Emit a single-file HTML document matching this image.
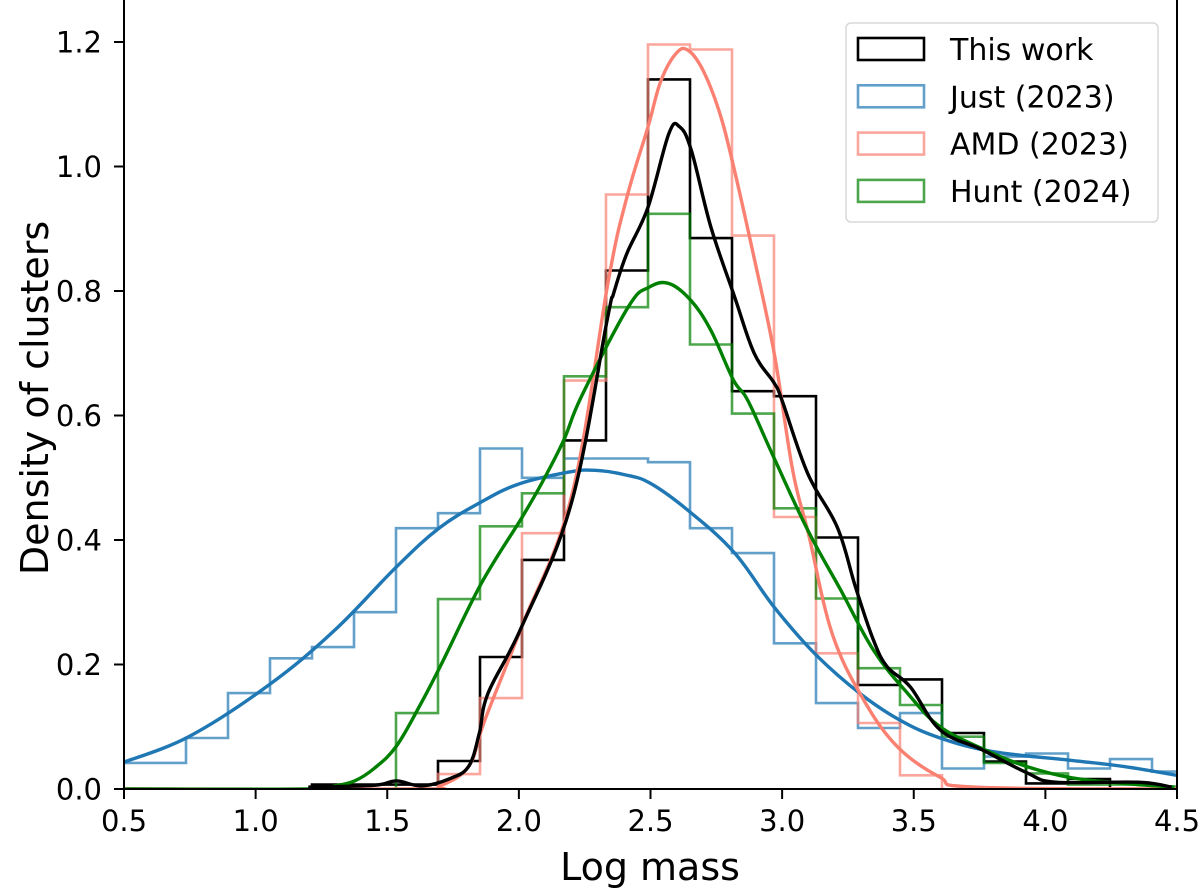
<!DOCTYPE html>
<html><head><meta charset="utf-8">
<style>
html,body{margin:0;padding:0;background:#fff;}
svg{display:block;font-family:"DejaVu Sans","Liberation Sans",sans-serif;}
</style></head>
<body>
<svg id="chart" width="1200" height="895" viewBox="0 0 1200 895" xmlns="http://www.w3.org/2000/svg">
<defs><clipPath id="plotclip"><rect x="124" y="0" width="1053" height="789"/></clipPath></defs>
<g id="plot" clip-path="url(#plotclip)"></g>
<g id="axes"></g>
</svg>
<script>
// ---- data ----
const binStart = 0.7355;   // left edge of bin index 0 (log mass)
const binWidth = 0.15955;  // bin width (log mass)
const justStartBin = -2;
const justHist = [0.042,0.042,0.082,0.154,0.21,0.228,0.284,0.419,0.443,0.547,0.50,0.531,0.531,0.525,0.419,0.379,0.234,0.138,0.098,0.122,0.033,0.052,0.057,0.033,0.048,0.028];
const thisStartBin = 3;
const thisHist = [0.007,0.007,0.007,0.045,0.212,0.368,0.56,0.833,1.14,0.885,0.639,0.631,0.404,0.167,0.176,0.09,0.044,0.009,0.016];
const amdStartBin = 6;
const amdHist = [0.024,0.146,0.411,0.656,0.955,1.196,1.188,0.889,0.437,0.218,0.106,0.022];
const huntStartBin = 5;
const huntHist = [0.122,0.305,0.422,0.475,0.663,0.774,0.924,0.714,0.603,0.451,0.306,0.194,0.135,0.084,0.042,0.025,0.007,0.007,0.004,0.003];

const justKdeX = [0.5,0.75,1.05,1.3,1.535,1.7,1.857,2.0,2.19,2.29,2.4,2.5,2.65,2.82,2.97,3.13,3.3,3.45,3.6,3.8,4.1,4.3,4.5];
const justKdeY = [0.043,0.085,0.167,0.255,0.357,0.42,0.461,0.49,0.509,0.512,0.505,0.491,0.445,0.379,0.292,0.215,0.152,0.11,0.082,0.06,0.046,0.036,0.022];
const thisKdeX = [1.2,1.45,1.535,1.63,1.74,1.81,1.85,1.883,2.01,2.2,2.335,2.36,2.41,2.49,2.57,2.61,2.655,2.73,2.82,2.894,2.97,3.0,3.097,3.21,3.279,3.347,3.4,3.487,3.6,3.76,3.93,4.04,4.35,4.48];
const thisKdeY = [0.003,0.006,0.013,0.005,0.017,0.037,0.09,0.154,0.26,0.46,0.753,0.796,0.86,0.934,1.053,1.064,1.026,0.902,0.79,0.7,0.652,0.624,0.507,0.42,0.324,0.239,0.196,0.164,0.095,0.063,0.026,0.011,0.011,0.003];
const amdKdeX = [0.5,1.6,1.7,1.81,1.87,2.01,2.2,2.34,2.41,2.49,2.54,2.6,2.645,2.7,2.76,2.81,2.89,2.97,3.04,3.10,3.19,3.31,3.44,3.6,3.73,4.5];
const amdKdeY = [0,0,0.005,0.037,0.11,0.26,0.47,0.817,0.95,1.063,1.138,1.183,1.186,1.154,1.09,1.01,0.86,0.7,0.512,0.41,0.25,0.143,0.067,0.019,0.003,0];
const huntKdeX = [0.5,1.2,1.3,1.376,1.45,1.535,1.63,1.705,1.857,2.01,2.085,2.17,2.237,2.415,2.494,2.57,2.653,2.729,2.815,2.87,2.968,3.097,3.222,3.347,3.476,3.6,3.77,3.93,4.1,4.3,4.49];
const huntKdeY = [0,0,0.005,0.013,0.033,0.069,0.139,0.2,0.33,0.435,0.49,0.56,0.63,0.774,0.806,0.812,0.785,0.737,0.657,0.624,0.533,0.416,0.32,0.223,0.154,0.1,0.063,0.036,0.018,0.009,0.003];

const xTicks = [0.5,1.0,1.5,2.0,2.5,3.0,3.5,4.0,4.5];
const yTicks = [0.0,0.2,0.4,0.6,0.8,1.0,1.2];

// ---- scales ----
const X0=124, X1=1177, Y0=789, PXY=622.5, YTOP=0;
function sx(v){return X0+(v-0.5)*(X1-X0)/4;}
function sy(v){return Y0-v*PXY;}
const NS="http://www.w3.org/2000/svg";
const plot=document.getElementById('plot');
const axes=document.getElementById('axes');
function mk(tag,attrs,parent){const e=document.createElementNS(NS,tag);for(const k in attrs)e.setAttribute(k,attrs[k]);parent.appendChild(e);return e;}

function histPath(start,vals){
  let d='';
  for(let i=0;i<vals.length;i++){
    const l=sx(binStart+(start+i)*binWidth), r=sx(binStart+(start+i+1)*binWidth);
    const y=sy(vals[i]);
    if(i===0) d+='M'+l.toFixed(1)+','+Y0+' L'+l.toFixed(1)+','+y.toFixed(1);
    else d+=' L'+l.toFixed(1)+','+y.toFixed(1);
    d+=' L'+r.toFixed(1)+','+y.toFixed(1);
  }
  const lastR=sx(binStart+(start+vals.length)*binWidth);
  d+=' L'+lastR.toFixed(1)+','+Y0;
  return d;
}
function smoothPath(xs,ys){
  const p=xs.map((x,i)=>[sx(x),sy(ys[i])]);
  let d='M'+p[0][0].toFixed(1)+','+p[0][1].toFixed(1);
  for(let i=0;i<p.length-1;i++){
    const p0=p[i-1]||p[i], p1=p[i], p2=p[i+1], p3=p[i+2]||p2;
    const t=0.18;
    const c1=[p1[0]+(p2[0]-p0[0])*t, p1[1]+(p2[1]-p0[1])*t];
    const c2=[p2[0]-(p3[0]-p1[0])*t, p2[1]-(p3[1]-p1[1])*t];
    d+=' C'+c1[0].toFixed(1)+','+c1[1].toFixed(1)+' '+c2[0].toFixed(1)+','+c2[1].toFixed(1)+' '+p2[0].toFixed(1)+','+p2[1].toFixed(1);
  }
  return d;
}

const hThis=mk('path',{d:histPath(thisStartBin,thisHist),fill:'none',stroke:'#000','stroke-width':2.6},plot);


const hJust=mk('path',{d:histPath(justStartBin,justHist),fill:'none',stroke:'#1f77b4','stroke-opacity':0.7,'stroke-width':2.6},plot);


const hAmd=mk('path',{d:histPath(amdStartBin,amdHist),fill:'none',stroke:'#fa8072','stroke-opacity':0.7,'stroke-width':2.6},plot);


const hHunt=mk('path',{d:histPath(huntStartBin,huntHist),fill:'none',stroke:'#008000','stroke-opacity':0.7,'stroke-width':2.6},plot);



const kJust=mk('path',{d:smoothPath(justKdeX,justKdeY),fill:'none',stroke:'#1f77b4','stroke-width':3.4,'stroke-linejoin':'round'},plot);


const kAmd=mk('path',{d:smoothPath(amdKdeX,amdKdeY),fill:'none',stroke:'#fa8072','stroke-width':3.4,'stroke-linejoin':'round'},plot);


const kHunt=mk('path',{d:smoothPath(huntKdeX,huntKdeY),fill:'none',stroke:'#008000','stroke-width':3.4,'stroke-linejoin':'round'},plot);


const kThis=mk('path',{d:smoothPath(thisKdeX,thisKdeY),fill:'none',stroke:'#000','stroke-width':3.4,'stroke-linejoin':'round'},plot);



// spines
const frame=mk('rect',{x:X0,y:YTOP-1,width:X1-X0,height:Y0-YTOP+1,fill:'none',stroke:'#000','stroke-width':2},axes);



xTicks.forEach(t=>{
  const x=sx(t);
  const tk=mk('line',{x1:x,y1:Y0,x2:x,y2:Y0+10,stroke:'#000','stroke-width':2},axes);
  
  
  const lb=mk('text',{x:x,y:831,'font-size':29,'text-anchor':'middle',fill:'#000'},axes);
  lb.textContent=t.toFixed(1);
  
  
});
yTicks.forEach(t=>{
  const y=sy(t);
  const tk=mk('line',{x1:X0-10,y1:y,x2:X0,y2:y,stroke:'#000','stroke-width':2},axes);
  
  
  const lb=mk('text',{x:102,y:y+10.5,'font-size':29,'text-anchor':'end',fill:'#000'},axes);
  lb.textContent=t.toFixed(1);
  
  
});
const xl=mk('text',{x:650,y:880,'font-size':38,'text-anchor':'middle',fill:'#000'},axes);
xl.textContent='Log mass';


const yl=mk('text',{x:0,y:0,'font-size':38,'text-anchor':'middle',fill:'#000',transform:'translate(48,398) rotate(-90)'},axes);
yl.textContent='Density of clusters';



// legend
const leg=mk('g',{},axes);


mk('rect',{x:846,y:23,width:312,height:199,rx:5,fill:'#fff','fill-opacity':0.85,stroke:'#d8d8d8','stroke-width':1.5},leg);
const legNames=['This work','Just (2023)','AMD (2023)','Hunt (2024)'];
const legColors=['#000','#1f77b4','#fa8072','#008000'];
const legOp=[1,0.7,0.7,0.7];
const legSlugs=['this-work','just-2023','amd-2023','hunt-2024'];
legNames.forEach((n,i)=>{
  const cy=49+i*47.3;
  const g=mk('g',{},leg);
  
  
  mk('rect',{x:858,y:cy-11,width:66,height:22,fill:'none',stroke:legColors[i],'stroke-opacity':legOp[i],'stroke-width':2.6},g);
  const t=mk('text',{x:950,y:cy+11,'font-size':30,fill:'#000'},g);
  t.textContent=n;
});
</script>
</body></html>
